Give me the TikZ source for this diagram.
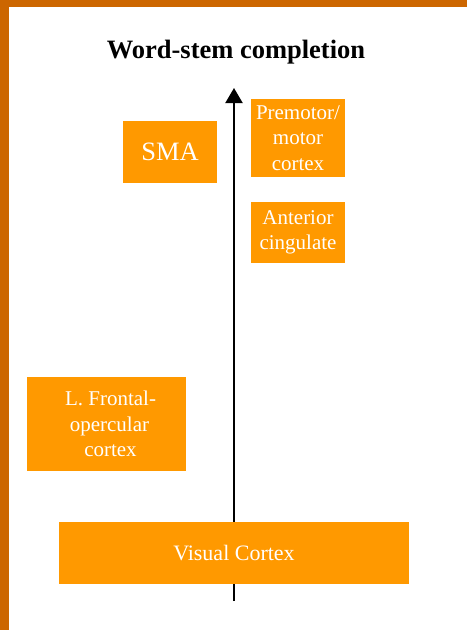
\documentclass[tikz,border=0pt]{standalone}
\usepackage{fontspec}
\setmainfont{Liberation Serif}
\usetikzlibrary{arrows.meta}
\definecolor{frameorange}{RGB}{204,102,0}
\definecolor{areaorange}{RGB}{255,153,0}
\begin{document}
\begin{tikzpicture}[line join=round, x=1pt, y=-1pt]
            \tikzset{area/.style={fill=areaorange, text=white, inner sep=0pt, align=center, font=\fontsize{21}{25.5}\selectfont},
                     area big/.style={area, font=\fontsize{26.5}{30}\selectfont}}
            \useasboundingbox (0,0) rectangle (467,630);
            \fill[white] (0,0) rectangle (467,630);
            \fill[frameorange] (0,0) rectangle (467,7);
            \fill[frameorange] (0,0) rectangle (9,630);
            \node[font=\fontsize{26.5}{30}\selectfont\bfseries] (title) at (236,52) {Word-stem completion};
            \coordinate (base) at (234,601);
            \coordinate (tip) at (234,88);
            \draw[line width=2pt, -{Triangle[width=17pt,length=15pt]}] (base) -- (tip);
            \node[area, font=\fontsize{22}{25.5}\selectfont, minimum width=350pt, minimum height=62pt] (visual) at (234,553) {Visual Cortex};
            \node[area, minimum width=159pt, minimum height=94pt] (frontal) at (106.5,424) {\hspace*{8pt}L. Frontal-\\\hspace*{6pt}opercular\\\hspace*{8pt}cortex};
            \node[area big, minimum width=94pt, minimum height=62pt] (sma) at (170,152) {SMA};
            \node[area, minimum width=94pt, minimum height=78pt] (premotor) at (298,138) {Premotor/\\motor\\cortex};
            \node[area, minimum width=94pt, minimum height=61pt] (cingulate) at (298,232.5) {Anterior\\cingulate};
        \end{tikzpicture}
\end{document}
